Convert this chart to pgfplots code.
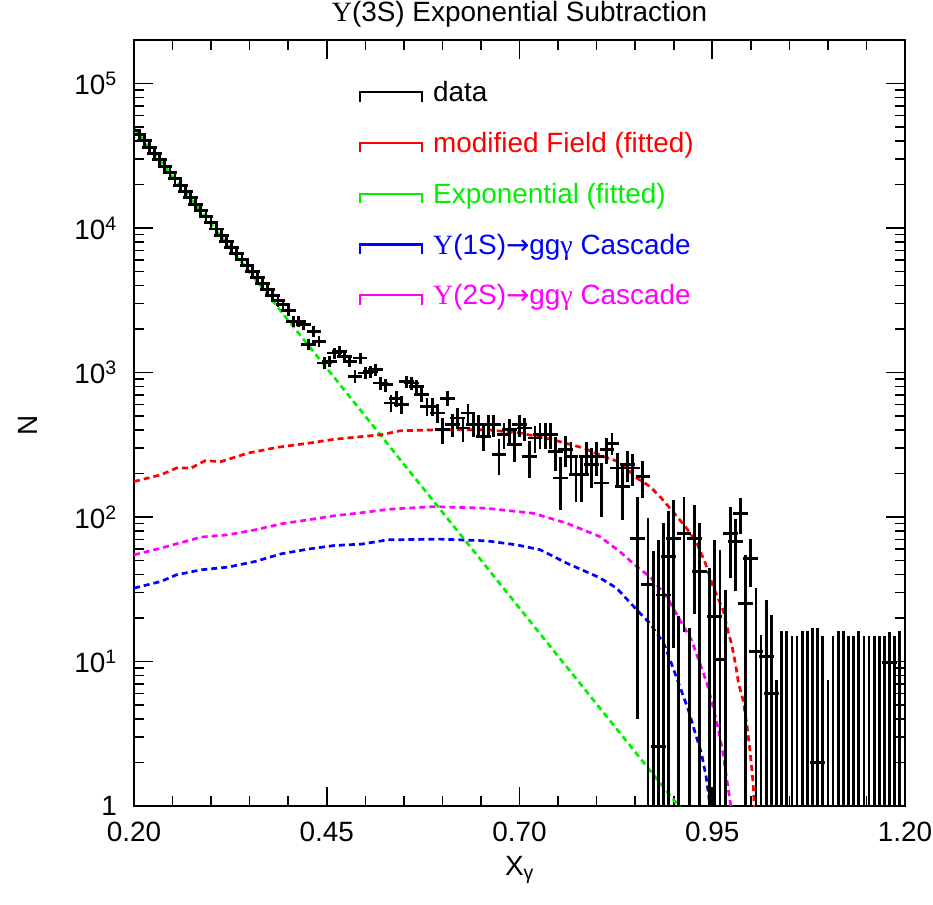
\documentclass[border=0pt]{standalone}
\usepackage{fontspec}
\setmainfont{Liberation Sans}
\newfontfamily\serif{Liberation Serif}
\newfontfamily\dejavu{DejaVu Sans}
\usepackage{pgfplots}
\pgfplotsset{compat=1.18}
\usepackage{pgfplotstable}
\definecolor{rgreen}{RGB}{0,240,0}
\definecolor{rmag}{RGB}{255,0,255}
\definecolor{rblue}{RGB}{0,0,255}
\definecolor{rred}{RGB}{255,0,0}

\pgfplotstableread{
x y ep em
0.2000 47500 4300 4300
0.2067 44400 4000 4000
0.2133 40100 3600 3600
0.2200 36250 3260 3260
0.2267 32750 2950 2950
0.2333 29600 2660 2660
0.2400 26750 2400 2400
0.2467 24200 2180 2180
0.2533 21900 1970 1970
0.2600 19770 1780 1780
0.2667 17880 1610 1610
0.2733 16170 1460 1460
0.2800 14630 1320 1320
0.2867 13240 1190 1190
0.2933 11980 1080 1080
0.3000 10850 980 980
0.3067 9830 880 880
0.3133 8900 800 800
0.3200 8070 730 730
0.3267 7330 660 660
0.3333 6650 600 600
0.3400 6040 540 540
0.3467 5480 490 490
0.3533 4990 450 450
0.3600 4540 410 410
0.3667 4130 370 370
0.3733 3760 340 340
0.3800 3430 310 310
0.3867 3130 280 280
0.3933 2946 250 250
0.4000 2700 230 230
0.4067 2260 190 190
0.4133 2260 190 190
0.4200 2143 180 180
0.4267 1560 140 140
0.4333 1926 160 160
0.4400 1641 140 140
0.4467 1164 110 110
0.4533 1194 110 110
0.4600 1364 115 115
0.4667 1400 115 115
0.4733 1294 110 110
0.4800 1194 105 105
0.4867 940 95 95
0.4933 1259 105 105
0.5000 992 95 95
0.5067 1018 95 95
0.5133 1045 95 95
0.5200 845 85 85
0.5267 823 85 85
0.5333 615 85 85
0.5400 665 85 85
0.5467 598 85 85
0.5533 867 85 85
0.5600 845 85 85
0.5667 801 85 85
0.5733 701 80 80
0.5800 582 80 80
0.5867 582 80 80
0.5933 524 80 80
0.6000 402 80 80
0.6067 665 80 80
0.6133 435 80 80
0.6200 484 80 80
0.6267 413 80 80
0.6333 524 80 80
0.6400 435 80 80
0.6467 435 75 75
0.6533 361 75 75
0.6600 435 75 75
0.6667 435 75 75
0.6733 270 75 75
0.6800 371 75 75
0.6867 402 75 75
0.6933 316 75 75
0.7000 435 75 75
0.7067 413 75 75
0.7133 262 75 75
0.7200 352 75 75
0.7267 371 75 75
0.7333 371 75 75
0.7400 371 75 75
0.7467 284 75 75
0.7533 186 75 75
0.7600 292 70 70
0.7667 262 70 70
0.7733 196 70 70
0.7800 196 70 70
0.7867 262 70 70
0.7933 230 70 70
0.8000 262 70 70
0.8067 172 65 72
0.8133 292 60 60
0.8200 324 55 55
0.8267 218 60 60
0.8333 163 67 67
0.8400 230 56 56
0.8467 218 55 55
0.8533 71 67 67
0.8600 191 55 55
0.8667 34 65 33.95
0.8733 0.05 57.7 0
0.8800 2.57 67 2.52
0.8867 28.9 62 28.85
0.8933 53.3 56 53.25
0.9000 71.4 60 59
0.9067 0.05 20.5 0
0.9133 77 61 61
0.9200 0.05 17 0
0.9267 71.4 50 50
0.9333 42 48.5 41.95
0.9467 0.05 44.4 0
0.9533 20.5 49 20.45
0.9600 10.3 49 10.25
0.9667 0.05 31.3 0
0.9733 77 41 39
0.9800 67.6 30 37
0.9867 106 30 30
0.9933 25.3 29.4 25.25
1.0000 51.9 19 19
1.0067 11.7 20.5 11.65
1.0133 0.05 15.3 0
1.0200 10.8 16 10.75
1.0267 6.0 15 5.95
1.0333 0.05 7.4 0
1.0400 0.05 16.1 0
1.0467 0.05 16.1 0
1.0533 0.05 15.0 0
1.0600 0.05 15.0 0
1.0667 0.05 16.1 0
1.0733 0.05 16.1 0
1.0800 0.05 17.0 0
1.0867 2.0 15.0 1.95
1.0933 0.05 15.0 0
1.1000 0.05 7.4 0
1.1067 0.05 15.0 0
1.1133 0.05 16.1 0
1.1200 0.05 16.1 0
1.1267 0.05 15.0 0
1.1333 0.05 15.0 0
1.1400 0.05 16.1 0
1.1467 0.05 15.0 0
1.1533 0.05 15.0 0
1.1600 0.05 15.0 0
1.1667 0.05 15.0 0
1.1733 0.05 15.0 0
1.1800 9.9 6 9.85
1.1867 0.05 15.0 0
1.1933 0.05 16.1 0
}\datatab

\pgfplotstableread{
x y
0.20 49000
0.25 22800
0.30 10620
0.35 4940
0.40 2300
0.45 1072
0.50 499
0.55 232
0.60 108
0.65 50.4
0.70 23.4
0.75 10.9
0.80 5.08
0.85 2.37
0.90 1.10
0.92 0.81
}\greentab

\pgfplotstableread{
x y
0.200 176
0.235 196
0.255 218
0.274 218
0.292 245
0.313 242
0.348 277
0.387 304
0.426 324
0.460 345
0.495 360
0.521 371
0.545 395
0.597 402
0.657 402
0.701 381
0.743 343
0.783 300
0.809 262
0.830 240
0.852 186
0.869 163
0.884 135
0.897 112
0.915 86
0.930 66
0.941 48
0.951 33
0.964 22.8
0.971 15.7
0.975 13.3
0.980 9.7
0.984 7.1
0.990 5.4
0.995 3.6
0.999 2.4
1.003 1.44
1.005 0.9
}\redtab

\pgfplotstableread{
x y
0.200 54.7
0.235 60.9
0.255 65.2
0.287 72.6
0.322 75.3
0.357 81.5
0.391 89.7
0.426 95.6
0.460 102
0.495 107
0.529 113
0.588 118
0.657 115
0.718 106
0.761 90.7
0.804 73.3
0.830 57.7
0.852 45.4
0.869 38.7
0.891 28.1
0.908 19.4
0.923 14.1
0.934 9.7
0.943 7.1
0.951 4.87
0.958 3.36
0.964 2.32
0.969 1.51
0.973 1.1
0.976 0.8
}\magtab

\pgfplotstableread{
x y
0.200 32.2
0.235 35.8
0.255 39.8
0.287 43.1
0.322 45
0.357 49.2
0.391 55.6
0.426 60
0.460 63.5
0.495 64.9
0.529 69.5
0.597 70.3
0.657 68.4
0.696 64.2
0.727 59.3
0.761 48
0.804 38
0.826 32.2
0.852 22.8
0.869 18.4
0.887 13.4
0.897 9.7
0.908 6.7
0.919 4.62
0.928 3.19
0.936 2.32
0.942 1.6
0.945 1.22
0.947 1.0
0.949 0.8
}\bluetab

\begin{document}
\begin{tikzpicture}[font=\fontsize{28}{34}\selectfont]
\useasboundingbox (-134bp,-99bp) rectangle (799bp,806bp);
\begin{axis}[
  at={(0bp,0bp)}, anchor=south west,
  scale only axis, width=771bp, height=766bp,
  ymode=log, xmin=0.2, xmax=1.2, ymin=1, ymax=2e5,
  xtick={0.2,0.45,0.7,0.95,1.2},
  xticklabels={0.20,0.45,0.70,0.95,1.20},
  minor xtick={0.25,0.3,0.35,0.4,0.5,0.55,0.6,0.65,0.75,0.8,0.85,0.9,1.0,1.05,1.1,1.15},
  ytick={1,10,100,1000,10000,100000},
  yticklabels={1,10\textsuperscript{1},10\textsuperscript{2},10\textsuperscript{3},10\textsuperscript{4},10\textsuperscript{5}},
  minor ytick={2,3,4,5,6,7,8,9,20,30,40,50,60,70,80,90,200,300,400,500,600,700,800,900,2000,3000,4000,5000,6000,7000,8000,9000,20000,30000,40000,50000,60000,70000,80000,90000},
  major tick length=19bp, minor tick length=10bp,
  every tick/.style={black, line width=1.6bp},
  axis line style={line width=2.4bp},
  tick pos=both,
  xticklabel style={anchor=base, inner sep=0pt, yshift=-35bp},
  yticklabel style={anchor=east, inner sep=0pt, xshift=-17bp},
  xlabel={X\textsubscript{γ}},
  xlabel style={at={(axis description cs:0.5,-0.083)}, anchor=center},
  ylabel={N},
  ylabel style={at={(axis description cs:-0.1375,0.497)}, anchor=center, rotate=0},
  title={{\serif Υ}(3S) Exponential Subtraction},
  title style={at={(axis description cs:0.5,1)}, anchor=base, yshift=13bp},
]
\addplot[rgreen, line width=2.7bp, dash pattern=on 6bp off 4bp] table[x=x,y=y]{\greentab};
\addplot[rred, line width=2.7bp, dash pattern=on 6bp off 4bp] table[x=x,y=y]{\redtab};
\addplot[rmag, line width=2.7bp, dash pattern=on 6bp off 4bp] table[x=x,y=y]{\magtab};
\addplot[rblue, line width=2.7bp, dash pattern=on 6bp off 4bp] table[x=x,y=y]{\bluetab};
\addplot[draw=none, mark=none,
  error bars/.cd, x dir=both, x fixed=0.0095, y dir=both, y explicit,
  error mark=none, error bar style={draw=black, solid, line width=2.8bp}]
  table[x=x, y=y, y error plus=ep, y error minus=em]{\datatab};
\end{axis}
% legend
\foreach \Y/\col/\txt in {704.3/black/{data}, 653.5/rred/{modified Field (fitted)}, 602.7/rgreen/{Exponential (fitted)}, 551.9/rblue/{{\serif Υ}(1S){\dejavu →}gg{\serif γ} Cascade}, 501.1/rmag/{{\serif Υ}(2S){\dejavu →}gg{\serif γ} Cascade}}{
  \draw[\col, line width=2.2bp] (226bp,\Y bp) -- (226bp,\Y bp+9.5bp) -- (287.7bp,\Y bp+9.5bp) -- (287.7bp,\Y bp);
  \node[anchor=base west, inner sep=0pt, text=\col] at (299bp,\Y bp) {\txt};
}
\end{tikzpicture}
\end{document}
